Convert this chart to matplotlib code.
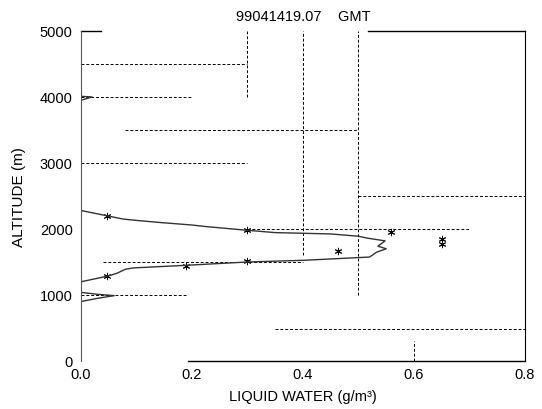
import matplotlib
matplotlib.use("Agg")
import matplotlib.pyplot as plt

plt.rcParams["font.family"] = ["Liberation Sans", "DejaVu Sans"]

# liquid water profile (g/m3) vs altitude (m)
lwc = [0.0, 0.047, 0.076, 0.10, 0.14, 0.20, 0.227, 0.30, 0.35, 0.45, 0.50, 0.517, 0.548, 0.535,
       0.55, 0.533, 0.52, 0.40, 0.30, 0.19, 0.094, 0.08, 0.065, 0.05, 0.0]
alt = [2280, 2200, 2150, 2130, 2100, 2060, 2035, 1980, 1945, 1925, 1890, 1860, 1820, 1740,
       1700, 1650, 1575, 1525, 1500, 1450, 1410, 1390, 1330, 1290, 1200]

lwc_low = [0.0, 0.03, 0.06, 0.03, 0.0]
alt_low = [1040, 1010, 990, 950, 900]

lwc_top = [0.0, 0.02, 0.0]
alt_top = [3950, 4000, 4010]

# asterisk samples
star_x = [0.047, 0.047, 0.19, 0.30, 0.30, 0.463, 0.558, 0.65, 0.65]
star_y = [2200, 1290, 1440, 1510, 1980, 1670, 1950, 1850, 1780]

# dashed reference lines: (altitude, x start, x end)
hlines = [(4500, 0.0, 0.30), (4000, 0.0, 0.20), (3500, 0.08, 0.50), (3000, 0.0, 0.30),
          (2500, 0.50, 0.80), (2000, 0.30, 0.70), (1500, 0.04, 0.40), (1000, 0.0, 0.19),
          (480, 0.35, 0.80)]
# (x, altitude start, altitude end)
vlines = [(0.3, 4000, 5000), (0.4, 1600, 5000), (0.5, 1000, 5000), (0.6, 0, 300)]

fig = plt.figure(figsize=(5.42, 4.10), dpi=100)
ax = fig.add_axes([0.1494, 0.1171, 0.8192, 0.8049])

for y, x0, x1 in hlines:
    ax.plot([x0, x1], [y, y], color="black", lw=0.7, ls=(0, (3, 2)))
for x, y0, y1 in vlines:
    ax.plot([x, x], [y0, y1], color="black", lw=0.7, ls=(0, (3, 2)))

ax.plot(lwc, alt, color="#333333", lw=1.0)
ax.plot(lwc_low, alt_low, color="#333333", lw=1.0)
ax.plot(lwc_top, alt_top, color="#333333", lw=1.0)
ax.scatter(star_x, star_y, marker=(6, 2, 0), s=22, color="black", lw=0.7)

ax.set_xlim(0, 0.8)
ax.set_ylim(0, 5000)
ax.set_xticks([0.0, 0.2, 0.4, 0.6, 0.8])
ax.set_xticklabels(["0.0", "0.2", "0.4", "0.6", "0.8"])
ax.set_yticks([0, 1000, 2000, 3000, 4000, 5000])
ax.tick_params(length=0, labelsize=10.5)
ax.tick_params(axis="x", pad=4)
ax.tick_params(axis="y", pad=6)

for s in ["top", "bottom"]:
    ax.spines[s].set_visible(False)
ax.spines["left"].set_color("#555555")
ax.spines["right"].set_color("black")
# broken top / bottom frame as in the scan
ax.plot([0, 0.045], [1, 1], transform=ax.transAxes, color="black", lw=1.0, clip_on=False)
ax.plot([0.646, 1], [1, 1], transform=ax.transAxes, color="black", lw=1.0, clip_on=False)
ax.plot([0.24, 1], [0, 0], transform=ax.transAxes, color="black", lw=1.0, clip_on=False)

ax.set_title("99041419.07    GMT", fontsize=10.5, pad=8)
ax.set_xlabel("LIQUID WATER (g/m³)", fontsize=10.5, labelpad=6)
ax.set_ylabel("ALTITUDE (m)", fontsize=11, labelpad=10)

fig.savefig("out.png", dpi=100)
